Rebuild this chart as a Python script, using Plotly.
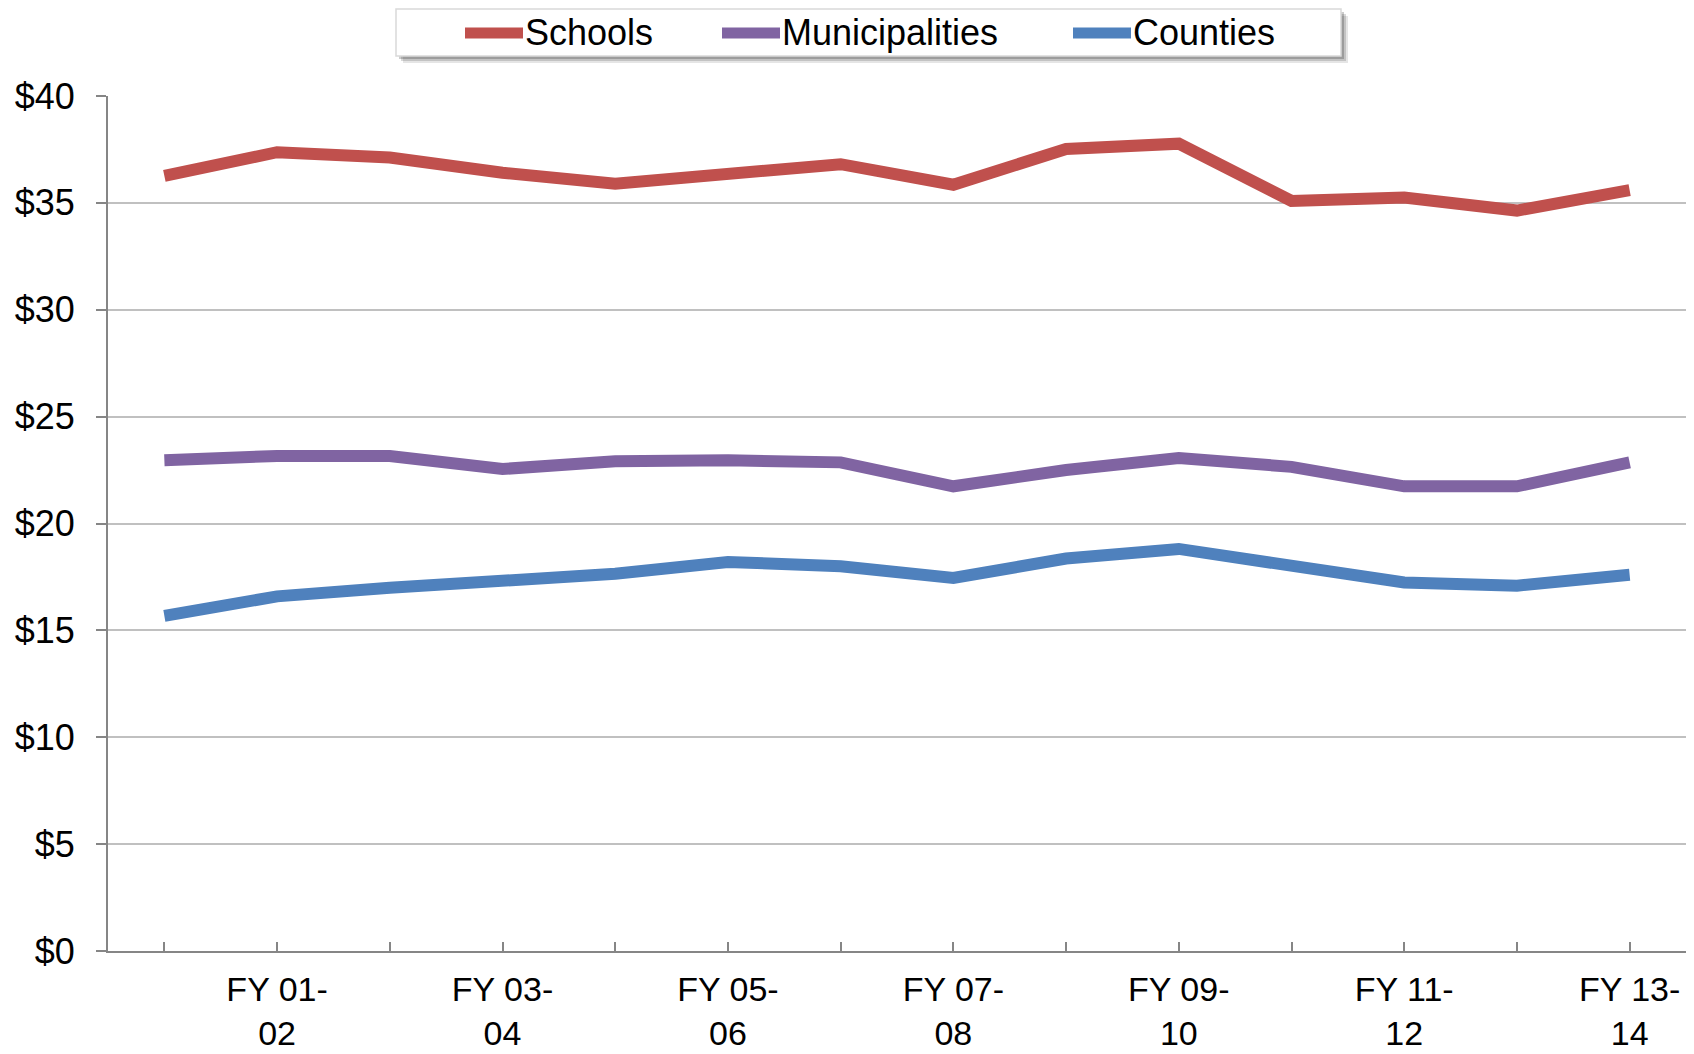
import plotly.graph_objects as go

fiscal_years = [
    "FY 00-01", "FY 01-02", "FY 02-03", "FY 03-04", "FY 04-05", "FY 05-06", "FY 06-07",
    "FY 07-08", "FY 08-09", "FY 09-10", "FY 10-11", "FY 11-12", "FY 12-13", "FY 13-14",
]
schools = [36.26, 37.37, 37.12, 36.41, 35.90, 36.36, 36.81,
           35.85, 37.52, 37.77, 35.09, 35.25, 34.64, 35.60]
municipalities = [22.96, 23.16, 23.16, 22.55, 22.91, 22.96, 22.86,
                  21.74, 22.50, 23.06, 22.65, 21.74, 21.74, 22.86]
counties = [15.68, 16.59, 16.99, 17.29, 17.65, 18.20, 18.00,
            17.45, 18.36, 18.81, 18.00, 17.24, 17.09, 17.60]

series_names = ["Schools", "Municipalities", "Counties"]
series_values = [schools, municipalities, counties]
series_colors = ["#C0504D", "#8064A2", "#4F81BD"]

FONT = "Arial, 'Liberation Sans', sans-serif"
WIDTH, HEIGHT = 1694, 1054
MARGIN = {"l": 108, "r": 8, "t": 96, "b": 103}

x_idx = list(range(len(fiscal_years)))

fig = go.Figure()
for name, values, color in zip(series_names, series_values, series_colors):
    fig.add_trace(
        go.Scatter(
            x=x_idx,
            y=values,
            mode="lines",
            name=name,
            line={"color": color, "width": 12},
            hoverinfo="skip",
            showlegend=False,
        )
    )

# label every other year on two lines, like the original
tick_text = []
for i, fy in enumerate(fiscal_years):
    if i % 2 == 1:
        head, tail = fy.split("-")
        tick_text.append(f"{head}-<br>{tail}")
    else:
        tick_text.append("")

fig.update_xaxes(
    range=[-0.5, len(fiscal_years) - 0.5],
    tickmode="array",
    tickvals=x_idx + [len(fiscal_years) - 0.5],
    ticktext=tick_text + [""],
    ticks="inside",
    ticklen=9,
    tickcolor="#868686",
    tickwidth=1.5,
    showline=True,
    linecolor="#868686",
    linewidth=2,
    showgrid=False,
    zeroline=False,
    automargin=False,
    tickfont={"size": 34, "color": "#000000", "family": FONT},
    ticklabelstandoff=7,
)
fig.update_yaxes(
    range=[0, 40],
    dtick=5,
    tickprefix="$",
    ticks="outside",
    ticklen=10,
    tickcolor="#868686",
    tickwidth=1.5,
    showline=True,
    linecolor="#868686",
    linewidth=2,
    showgrid=True,
    gridcolor="#C0C0C0",
    gridwidth=1.5,
    zeroline=False,
    automargin=False,
    tickfont={"size": 36, "color": "#000000", "family": FONT},
    ticklabelstandoff=14,
)

plot_w = WIDTH - MARGIN["l"] - MARGIN["r"]
plot_h = HEIGHT - MARGIN["t"] - MARGIN["b"]


def px_x(px):
    return (px - MARGIN["l"]) / plot_w


def px_y(py):
    return 1 - (py - MARGIN["t"]) / plot_h


# hand-built legend box (Excel style with a drop shadow)
box = (396, 9, 1341, 56)
for off, alpha in [(7, 0.10), (5, 0.15), (3, 0.20)]:
    fig.add_shape(
        type="rect", xref="paper", yref="paper",
        x0=px_x(box[0] + off), x1=px_x(box[2] + off),
        y0=px_y(box[3] + off), y1=px_y(box[1] + off),
        fillcolor=f"rgba(0,0,0,{alpha})", line={"width": 0},
    )
fig.add_shape(
    type="rect", xref="paper", yref="paper",
    x0=px_x(box[0]), x1=px_x(box[2]), y0=px_y(box[3]), y1=px_y(box[1]),
    fillcolor="white", line={"color": "#D9D9D9", "width": 1.5},
)

legend_symbol_x = [465, 722, 1073]
legend_mid_y = 33
for name, color, sx in zip(series_names, series_colors, legend_symbol_x):
    fig.add_shape(
        type="line", xref="paper", yref="paper",
        x0=px_x(sx), x1=px_x(sx + 58), y0=px_y(legend_mid_y), y1=px_y(legend_mid_y),
        line={"color": color, "width": 11},
    )
    fig.add_annotation(
        x=px_x(sx + 58), y=px_y(legend_mid_y), xref="paper", yref="paper",
        text=name, showarrow=False, xanchor="left", yanchor="middle",
        font={"size": 36, "color": "#000000", "family": FONT},
    )

fig.update_layout(
    width=WIDTH,
    height=HEIGHT,
    margin=MARGIN,
    paper_bgcolor="white",
    plot_bgcolor="white",
    font={"family": FONT, "color": "#000000", "size": 36},
    showlegend=False,
)

# the page's default body margin would push the figure 8px right and down
fig.write_html(
    "out.html",
    config={"displayModeBar": False},
    post_script="document.body.style.margin = '0';",
)
